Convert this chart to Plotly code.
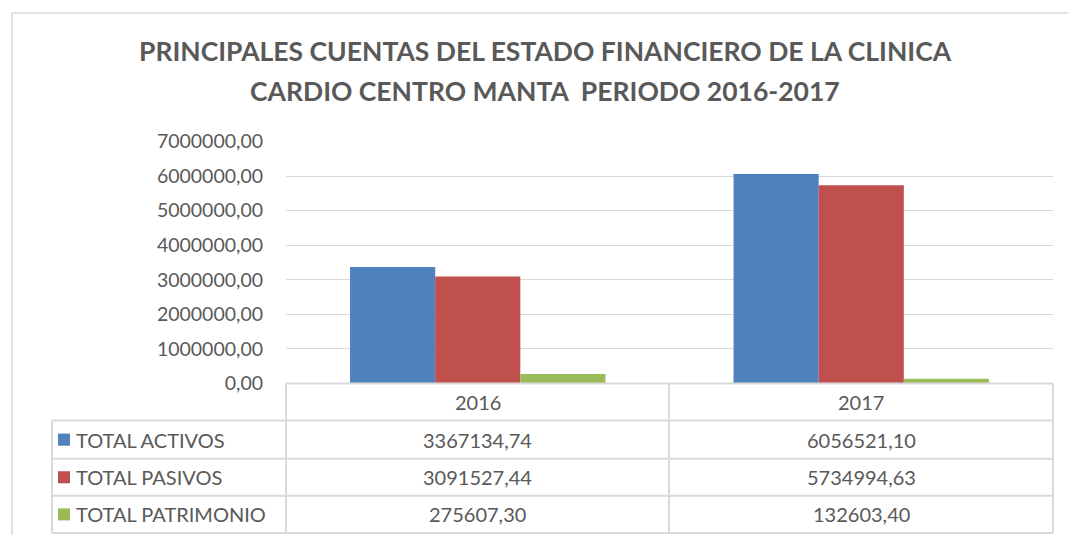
import plotly.graph_objects as go

W, H = 1068, 535
HF = 560  # rendered figure height (the page is squeezed vertically when photographed)

years = ["2016", "2017"]
series_names = ["TOTAL ACTIVOS", "TOTAL PASIVOS", "TOTAL PATRIMONIO"]
activos = [3367134.74, 6056521.10]
pasivos = [3091527.44, 5734994.63]
patrimonio = [275607.30, 132603.40]
colors = ["#4f81bd", "#c0504d", "#9bbb59"]
title_lines = ["PRINCIPALES CUENTAS DEL ESTADO FINANCIERO DE LA CLINICA",
               "CARDIO CENTRO MANTA  PERIODO 2016-2017"]

series_values = [activos, pasivos, patrimonio]

FONT = "Lato"
TXT = "#595959"
GRID = "#d9d9d9"

def px(x):
    return x / W

def py(y):
    return 1 - y / H

def fmt(v):
    return f"{v:.2f}".replace(".", ",")

# layout geometry (pixels, in the 1068x535 frame)
PL, PR, PT, PB = 286, 1053, 140, 381
TL = 52
cols = [286, 669, 1053]
rows = [381, 418, 456, 493, 530]

fig = go.Figure()
for name, vals, c in zip(series_names, series_values, colors):
    fig.add_trace(go.Bar(x=years, y=vals, name=name, marker=dict(color=c, line=dict(width=0))))

shapes = []
border = dict(color=GRID, width=1.5)
tline = dict(color=GRID, width=2)
# outer chart border
shapes.append(dict(type="line", xref="paper", yref="paper", x0=px(12), x1=1.0, y0=py(12), y1=py(12), line=border))
shapes.append(dict(type="line", xref="paper", yref="paper", x0=px(12), x1=px(12), y0=py(12), y1=0, line=border))
# table horizontal lines
shapes.append(dict(type="line", xref="paper", yref="paper", x0=px(cols[0]), x1=px(cols[-1]), y0=py(rows[0]), y1=py(rows[0]), line=tline))
for r in rows[1:]:
    shapes.append(dict(type="line", xref="paper", yref="paper", x0=px(TL), x1=px(cols[-1]), y0=py(r), y1=py(r), line=tline))
# table vertical lines
shapes.append(dict(type="line", xref="paper", yref="paper", x0=px(TL), x1=px(TL), y0=py(rows[1]), y1=py(rows[-1]), line=tline))
for cx in cols:
    shapes.append(dict(type="line", xref="paper", yref="paper", x0=px(cx), x1=px(cx), y0=py(rows[0]), y1=py(rows[-1]), line=tline))

annotations = []
for i, t in enumerate(title_lines):
    annotations.append(dict(text=f"<b>{t}</b>", x=px(545), y=py(50 + 40 * i), xref="paper", yref="paper",
                            showarrow=False, xanchor="center", yanchor="middle",
                            font=dict(family=FONT, size=26.5, color=TXT)))
# header row
for j, yr in enumerate(years):
    annotations.append(dict(text=yr, x=px((cols[j] + cols[j + 1]) / 2), y=py((rows[0] + rows[1]) / 2),
                            xref="paper", yref="paper", showarrow=False, xanchor="center", yanchor="middle",
                            font=dict(family=FONT, size=20, color=TXT)))
# data rows
for i, (name, vals, c) in enumerate(zip(series_names, series_values, colors)):
    cy = (rows[i + 1] + rows[i + 2]) / 2
    shapes.append(dict(type="rect", xref="paper", yref="paper", x0=px(58), x1=px(70), y0=py(cy - 6), y1=py(cy + 6),
                       fillcolor=c, line=dict(width=0)))
    annotations.append(dict(text=name, x=px(74), y=py(cy), xref="paper", yref="paper", showarrow=False,
                            xanchor="left", yanchor="middle", font=dict(family=FONT, size=20, color=TXT)))
    for j, v in enumerate(vals):
        annotations.append(dict(text=fmt(v), x=px((cols[j] + cols[j + 1]) / 2), y=py(cy), xref="paper", yref="paper",
                                showarrow=False, xanchor="center", yanchor="middle",
                                font=dict(family=FONT, size=20, color=TXT)))

fig.update_layout(
    width=W, height=HF,
    margin=dict(l=0, r=0, t=0, b=0),
    paper_bgcolor="white", plot_bgcolor="white",
    showlegend=False,
    barmode="group", bargap=0.334, bargroupgap=0,
    separators=",.",
    shapes=shapes, annotations=annotations,
    xaxis=dict(domain=[px(PL), px(PR)], range=[-0.5, 1.5], showticklabels=False, showgrid=False,
               zeroline=False, showline=False, ticks=""),
    yaxis=dict(domain=[py(PB), py(PT)], range=[0, 7000000], dtick=1000000, tickformat=".2f",
               showgrid=True, gridcolor=GRID, gridwidth=1, zeroline=False, showline=False,
               ticks="outside", ticklen=18, tickcolor="rgba(0,0,0,0)",
               tickfont=dict(family=FONT, size=19.5, color=TXT)),
)

post = (
    "document.documentElement.style.margin='0';"
    "document.documentElement.style.overflow='hidden';"
    "document.body.style.margin='0';"
    "document.body.style.overflow='hidden';"
    "var d=document.getElementById('{plot_id}');"
    "d.style.position='fixed';d.style.top='-11px';d.style.left='0px';"
)

fig.write_html("out.html", config={"displayModeBar": False}, post_script=post)
